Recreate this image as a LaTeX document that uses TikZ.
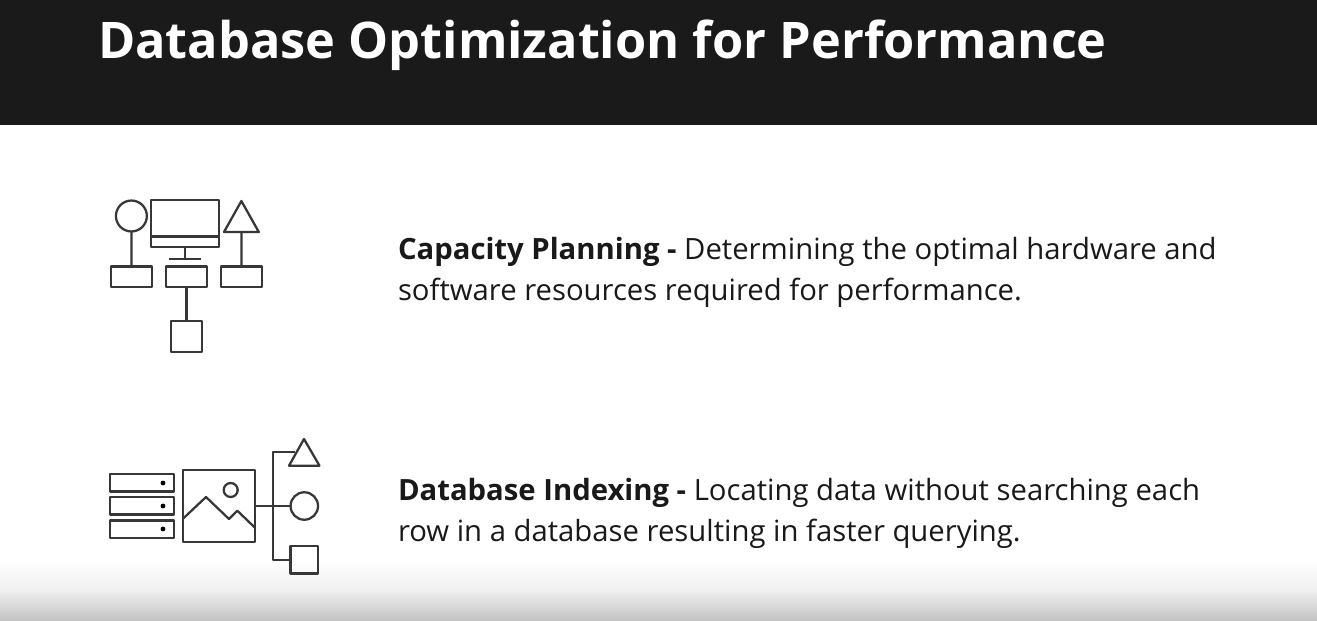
\documentclass[tikz,border=0pt]{standalone}
\usepackage{fontspec}
\setmainfont{Open Sans}
\definecolor{headerblack}{RGB}{26,26,26}
\definecolor{iconline}{RGB}{55,55,55}
\tikzset{every picture/.style={line width=0.75pt}}
\tikzset{
  icon/.style={draw=iconline,line width=1.7pt,line join=round},
  iconbox/.style={icon,rectangle,inner sep=0pt,outer sep=0pt,anchor=north west},
  iconcircle/.style={icon,circle,inner sep=0pt,outer sep=0pt},
  icondot/.style={circle,fill=black,inner sep=0pt,minimum size=3.6pt},
  bodytext/.style={anchor=north west,inner sep=0pt,align=left,text=black!90,font=\fontsize{21.95}{30.75}\selectfont},
}
\begin{document}
\begin{tikzpicture}[x=0.75pt,y=0.75pt,yscale=-1,xscale=1]
\useasboundingbox (0,0) rectangle (1317,621);
\fill[white] (0,0) rectangle (1317,621);

%Shape: Header
\fill[headerblack] (0,0) rectangle (1317,124.5);
%Shape: Bottom fade
\shade[top color=white,bottom color=black!6] (0,560) rectangle (1317,590);
\shade[top color=black!6,bottom color=black!24] (0,590) rectangle (1317,621);

% Text Node
\node (title) [anchor=west,inner sep=0pt,text=white,font=\fontsize{37.85}{45}\selectfont\bfseries] at (97.5,45) {Database Optimization for Performance};

%Capacity icon
\node (capCircle) [iconcircle,minimum size=23.2pt] at (131.4,216) {};
\node (capScreen) [iconbox,minimum width=51pt,minimum height=35.2pt] at (151,200) {};
\draw[icon] (151,236.5) -- (219,236.5);
\coordinate (capFoot) at (185,259);
\draw[icon] (capScreen.south) -- (capFoot);
\draw[icon] (169,259) -- (201,259);
\coordinate (capTriTop) at (241.4,201);
\coordinate (capTriLeft) at (224,232);
\coordinate (capTriRight) at (258.8,232);
\coordinate (capTriBase) at (241.4,232);
\draw[icon] (capTriTop) -- (capTriLeft) -- (capTriRight) -- cycle;
\node (capBoxA) [iconbox,minimum width=30.6pt,minimum height=15.3pt] at (111,266.5) {};
\node (capBoxB) [iconbox,minimum width=30.6pt,minimum height=15.3pt] at (166,266.5) {};
\node (capBoxC) [iconbox,minimum width=30.6pt,minimum height=15.3pt] at (221,266.5) {};
\node (capSquare) [iconbox,minimum width=23.1pt,minimum height=23pt] at (171,321) {};
\draw[icon] (capCircle.south) -- (capBoxA.north);
\draw[icon] (capTriBase) -- (capBoxC.north);
\draw[icon] (capBoxB.south) -- (capSquare.north);

%Indexing icon
\node (srvA) [iconbox,minimum width=48pt,minimum height=13.2pt] at (110,474) {};
\node (srvB) [iconbox,minimum width=48pt,minimum height=13.2pt] at (110,497) {};
\node (srvC) [iconbox,minimum width=48pt,minimum height=13.2pt] at (110,520.5) {};
\node (dotA) [icondot] at (163,483) {};
\node (dotB) [icondot] at (163,506) {};
\node (dotC) [icondot] at (163,529) {};
\node (pic) [iconbox,minimum width=54pt,minimum height=54pt] at (183,470) {};
\node (sun) [iconcircle,minimum size=10.5pt] at (230.7,490) {};
\draw[icon] (183,518.7) -- (206,497) -- (229,519) -- (237.3,510.7) -- (255,527.7);
\coordinate (idxTriTop) at (304,439);
\coordinate (idxTriLeft) at (289,465.7);
\coordinate (idxTriRight) at (319.5,465.7);
\coordinate (idxTriJoin) at (295,452);
\draw[icon] (idxTriTop) -- (idxTriLeft) -- (idxTriRight) -- cycle;
\node (idxCircle) [iconcircle,minimum size=20.6pt] at (304.3,506) {};
\node (idxSquare) [iconbox,minimum width=20.4pt,minimum height=20.4pt] at (290.5,546.3) {};
\coordinate (trunk) at (273.3,506);
\draw[icon] (pic.east) -- (idxCircle.west);
\draw[icon] (idxTriJoin) -| (trunk) |- (idxSquare.west);

% Text Node
\node (capText) [bodytext] at (397.5,236.7) {\textbf{Capacity Planning -} Determining the optimal hardware and\\software resources required for performance.};
% Text Node
\node (idxText) [bodytext] at (397.5,477.7) {\textbf{Database Indexing -} Locating data without searching each\\row in a database resulting in faster querying.};
\end{tikzpicture}
\end{document}
